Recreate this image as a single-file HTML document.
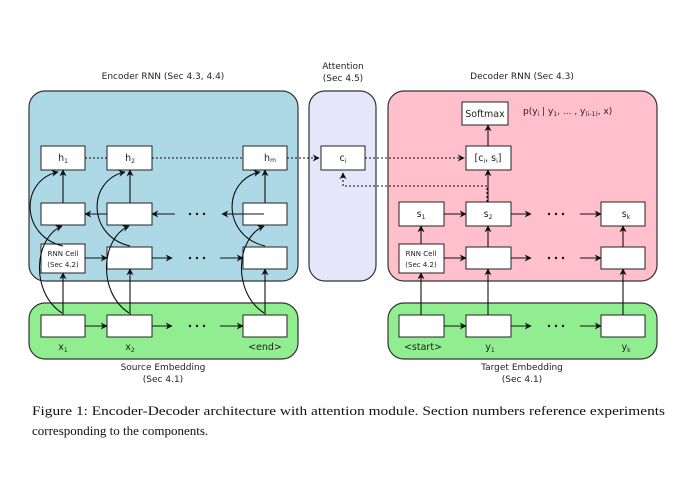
<!DOCTYPE html>
<html><head><meta charset="utf-8"><style>
html,body{margin:0;padding:0;background:#fff;}
svg{display:block;}
text{font-family:"DejaVu Sans","Liberation Sans",sans-serif;fill:#222;}
.cap{font-family:"Liberation Serif",serif;font-size:13px;fill:#111;}
</style></head><body>
<svg width="695" height="494" viewBox="0 0 695 494" xmlns="http://www.w3.org/2000/svg">
<defs>
<marker id="a" viewBox="0 0 10 10" refX="9" refY="5" markerWidth="7" markerHeight="7" orient="auto" markerUnits="userSpaceOnUse"><path d="M0,0 L10,5 L0,10 L3,5 z" fill="#111"/></marker>
</defs>
<rect x="29" y="91" width="269" height="190" rx="16" fill="#add8e6" stroke="#333" stroke-width="1.2"/>
<rect x="309" y="91" width="67" height="190" rx="16" fill="#e6e6fa" stroke="#333" stroke-width="1.2"/>
<rect x="388" y="91" width="269" height="190" rx="16" fill="#ffc0cb" stroke="#333" stroke-width="1.2"/>
<rect x="29" y="303" width="269" height="56" rx="16" fill="#90ee90" stroke="#333" stroke-width="1.2"/>
<rect x="388" y="303" width="269" height="56" rx="16" fill="#90ee90" stroke="#333" stroke-width="1.2"/>

<g font-size="9" text-anchor="middle">
<text x="163" y="79">Encoder RNN (Sec 4.3, 4.4)</text>
<text x="343" y="69">Attention</text>
<text x="343" y="81">(Sec 4.5)</text>
<text x="522" y="79">Decoder RNN (Sec 4.3)</text>
<text x="163" y="370">Source Embedding</text>
<text x="163" y="382">(Sec 4.1)</text>
<text x="522" y="370">Target Embedding</text>
<text x="522" y="382">(Sec 4.1)</text>
</g>

<g fill="#fff" stroke="#222" stroke-width="1">
<rect x="41" y="146" width="44" height="24"/><rect x="107" y="146" width="45" height="24"/><rect x="243" y="146" width="44" height="24"/>
<rect x="41" y="203" width="44" height="22"/><rect x="107" y="203" width="45" height="22"/><rect x="243" y="203" width="44" height="22"/>
<rect x="41" y="244" width="44" height="29"/><rect x="107" y="247" width="45" height="22"/><rect x="243" y="247" width="44" height="22"/>
<rect x="41" y="315" width="44" height="22"/><rect x="107" y="315" width="45" height="22"/><rect x="243" y="315" width="44" height="22"/>
<rect x="321" y="146" width="44" height="24"/>
<rect x="462" y="102" width="46" height="23"/>
<rect x="466" y="146" width="45" height="24"/>
<rect x="399" y="202" width="45" height="24"/><rect x="466" y="202" width="45" height="24"/><rect x="601" y="202" width="44" height="24"/>
<rect x="399" y="244" width="45" height="29"/><rect x="466" y="247" width="45" height="22"/><rect x="601" y="247" width="44" height="22"/>
<rect x="399" y="315" width="45" height="22"/><rect x="466" y="315" width="45" height="22"/><rect x="601" y="315" width="44" height="22"/>
</g>

<g font-size="9.5" text-anchor="middle">
<text x="63" y="161">h<tspan font-size="6" dy="2">1</tspan></text>
<text x="130" y="161">h<tspan font-size="6" dy="2">2</tspan></text>
<text x="270" y="161">h<tspan font-size="6" dy="1">m</tspan></text>
<text x="343" y="161">c<tspan font-size="6" dy="2">i</tspan></text>
<text x="485" y="117">Softmax</text>
<text x="488" y="161">[c<tspan font-size="6" dy="2">i</tspan><tspan dy="-2">, s</tspan><tspan font-size="6" dy="2">i</tspan><tspan dy="-2">]</tspan></text>
<text x="421" y="217">s<tspan font-size="6" dy="2">1</tspan></text>
<text x="488" y="217">s<tspan font-size="6" dy="2">2</tspan></text>
<text x="626" y="217">s<tspan font-size="6" dy="2">k</tspan></text>
<text x="63" y="256" font-size="7">RNN Cell</text>
<text x="63" y="267" font-size="7">(Sec 4.2)</text>
<text x="421" y="256" font-size="7">RNN Cell</text>
<text x="421" y="267" font-size="7">(Sec 4.2)</text>
<text x="63" y="350">x<tspan font-size="6" dy="2">1</tspan></text>
<text x="130" y="350">x<tspan font-size="6" dy="2">2</tspan></text>
<text x="265" y="350">&lt;end&gt;</text>
<text x="423" y="350">&lt;start&gt;</text>
<text x="490" y="350">y<tspan font-size="6" dy="2">1</tspan></text>
<text x="626" y="350">y<tspan font-size="6" dy="2">k</tspan></text>
</g>
<text x="523" y="114" font-size="9">p(y<tspan font-size="6" dy="2">i</tspan><tspan dy="-2"> | y</tspan><tspan font-size="6" dy="2">1</tspan><tspan dy="-2">, ... , y</tspan><tspan font-size="6" dy="2">(i-1)</tspan><tspan dy="-2">, x)</tspan></text>

<g fill="#111">
<circle cx="190" cy="258" r="1.2"/><circle cx="197" cy="258" r="1.2"/><circle cx="204" cy="258" r="1.2"/>
<circle cx="190" cy="214" r="1.2"/><circle cx="197" cy="214" r="1.2"/><circle cx="204" cy="214" r="1.2"/>
<circle cx="190" cy="326" r="1.2"/><circle cx="197" cy="326" r="1.2"/><circle cx="204" cy="326" r="1.2"/>
<circle cx="549" cy="214" r="1.2"/><circle cx="556" cy="214" r="1.2"/><circle cx="563" cy="214" r="1.2"/>
<circle cx="549" cy="258" r="1.2"/><circle cx="556" cy="258" r="1.2"/><circle cx="563" cy="258" r="1.2"/>
<circle cx="549" cy="326" r="1.2"/><circle cx="556" cy="326" r="1.2"/><circle cx="563" cy="326" r="1.2"/>
</g>

<g stroke="#111" stroke-width="1.1" fill="none" marker-end="url(#a)">
<path d="M63 315V273"/><path d="M130 315V269"/><path d="M265 315V269"/>
<path d="M63 203V170"/><path d="M130 203V170"/><path d="M265 203V170"/>
<path d="M85 258H107"/><path d="M152 258H172"/><path d="M220 258H243"/>
<path d="M107 214H85"/><path d="M175 214H152"/><path d="M264 214H222"/>
<path d="M85 326H107"/><path d="M152 326H172"/><path d="M220 326H243"/>
<path d="M63 246C20 236 20 180 58 172"/>
<path d="M62 313C30 292 34 238 62 226"/>
<path d="M130 246C87 236 87 180 125 172"/>
<path d="M129 313C97 292 101 238 129 226"/>
<path d="M265 246C222 236 222 180 260 172"/>
<path d="M264 313C232 292 236 238 264 226"/>
<path d="M421 315V273"/><path d="M488 315V269"/><path d="M623 315V269"/>
<path d="M421 244V226"/><path d="M488 247V226"/><path d="M623 247V226"/>
<path d="M488 202V170"/><path d="M488 146V125"/>
<path d="M444 214H466"/><path d="M511 214H531"/><path d="M580 214H601"/>
<path d="M444 258H466"/><path d="M511 258H531"/><path d="M580 258H601"/>
<path d="M444 326H466"/><path d="M511 326H531"/><path d="M580 326H601"/>
</g>
<g stroke="#111" stroke-width="1.1" fill="none" stroke-dasharray="2,2">
<path d="M85 158H107"/><path d="M152 158H243"/>
<path d="M287 158H319" marker-end="url(#a)"/>
<path d="M365 158H464" marker-end="url(#a)"/>
<path d="M487 202V186H343V173" marker-end="url(#a)"/>
</g>

<text class="cap" x="32" y="415" textLength="633" lengthAdjust="spacingAndGlyphs">Figure 1: Encoder-Decoder architecture with attention module. Section numbers reference experiments</text>
<text class="cap" x="32" y="435">corresponding to the components.</text>
</svg>
</body></html>
